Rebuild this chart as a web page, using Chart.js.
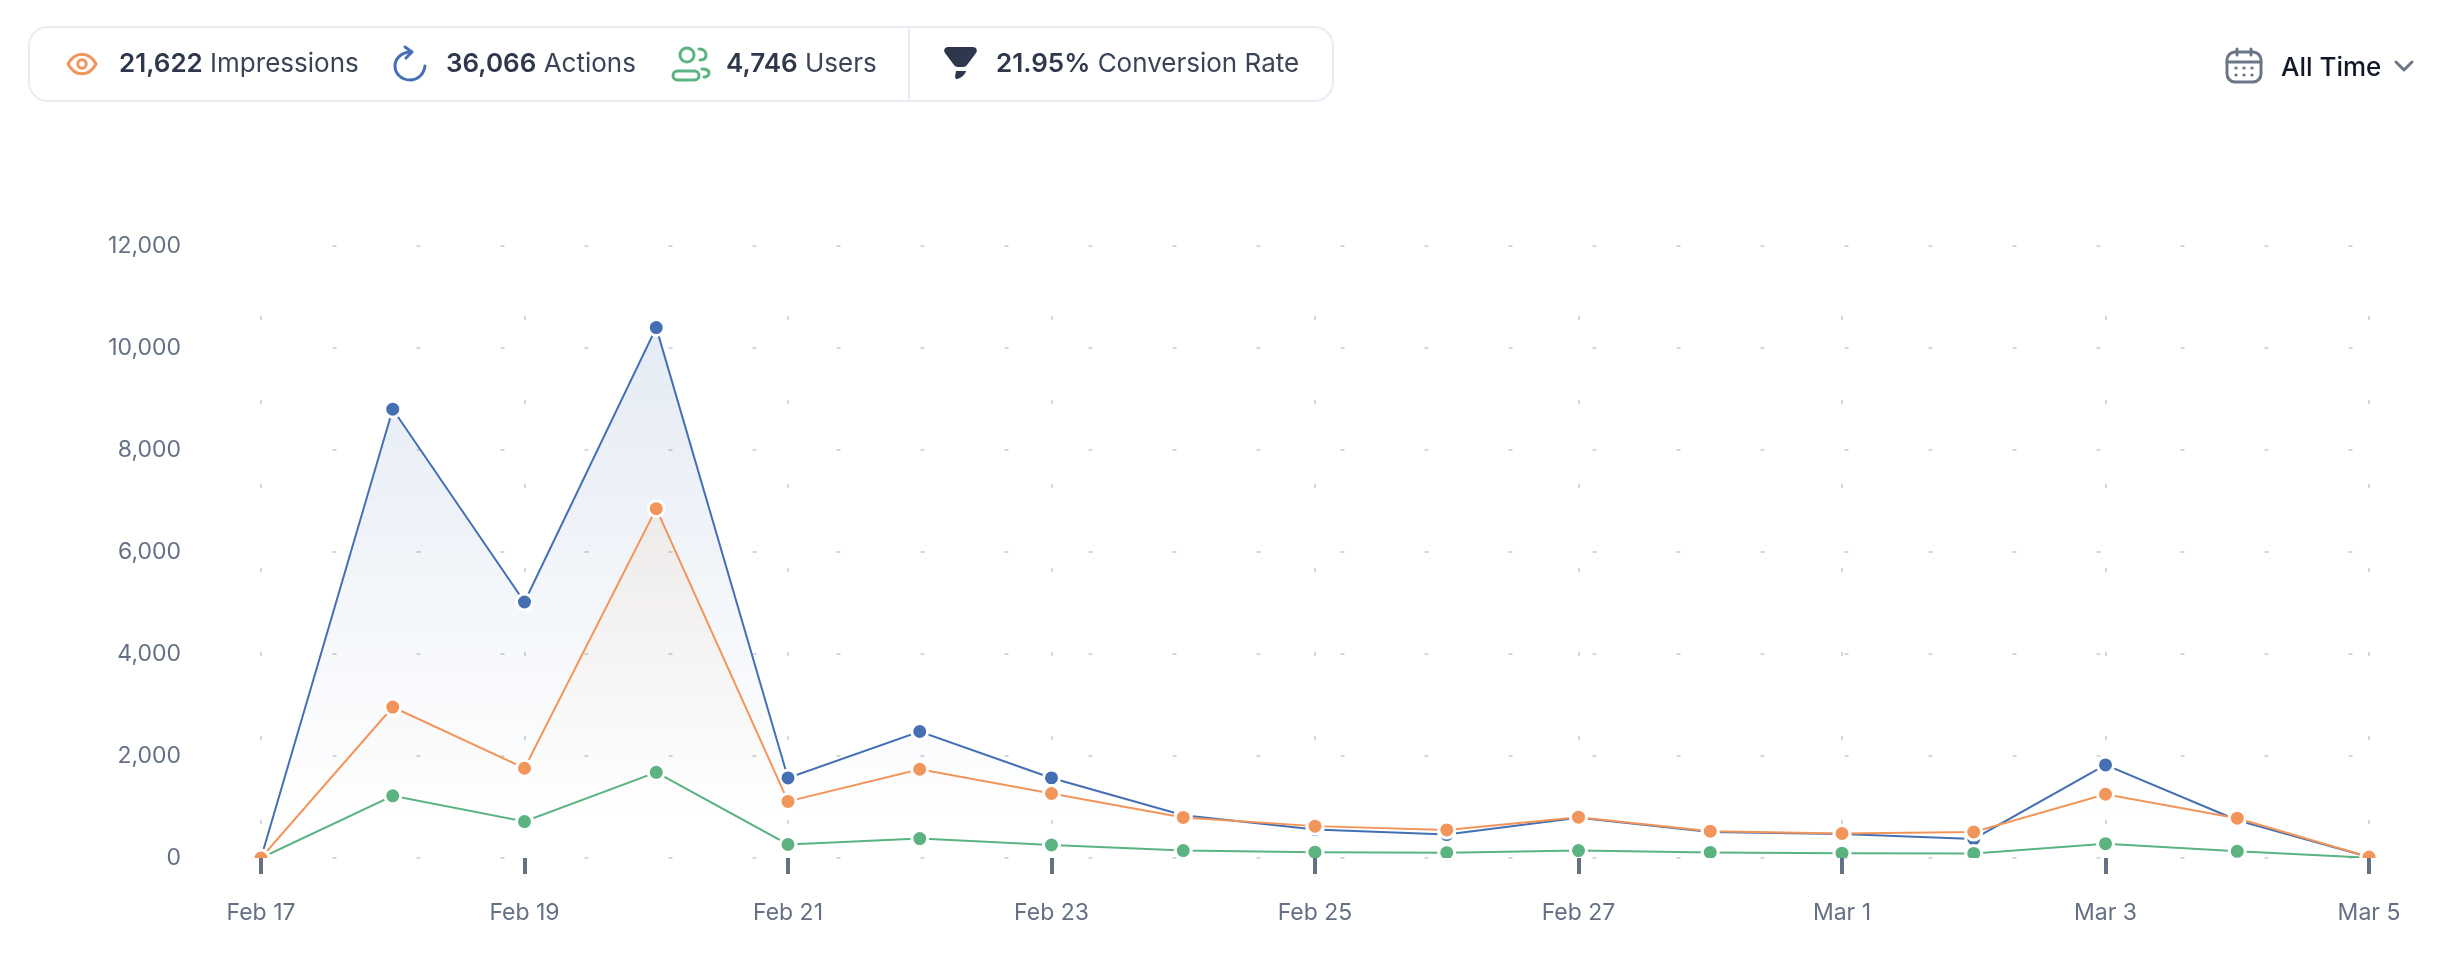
<!DOCTYPE html>
<html>
<head>
<meta charset="utf-8">
<title>Engagement</title>
<script src="https://cdn.jsdelivr.net/npm/chart.js@4"></script>
<style>
  html, body { margin: 0; background: #fff; }
  body { width: 2446px; height: 976px; position: relative; overflow: hidden; font-family: Inter, sans-serif; }
  #chart { position: absolute; left: 0; top: 0; }
  .box { position: absolute; left: 28px; top: 26px; width: 1302px; height: 72px; border: 2px solid #e8ecf3; border-radius: 20px; }
  .sep { position: absolute; left: 908px; top: 26px; width: 2px; height: 76px; background: #e8ecf3; }
  .stat { position: absolute; top: 48px; line-height: 30px; font-size: 26px; color: #3b4457; white-space: nowrap; }
  .stat b { font-weight: 600; color: #2e374b; }
  .range { position: absolute; left: 2281px; top: 52px; line-height: 30px; font-size: 26px; font-weight: 500; color: #111827; }
  svg { position: absolute; fill: none; }
</style>
</head>
<body>
<canvas id="chart" width="2446" height="976"></canvas>

<div class="box"></div>
<div class="sep"></div>

<svg style="left:66px;top:52px" width="32" height="24" viewBox="0 0 32 24" stroke="#f2955a" stroke-width="3">
  <path d="M2 12 C9 -1 23 -1 30 12 C23 25 9 25 2 12 Z"/><circle cx="16" cy="12" r="4.2"/>
</svg>
<div class="stat" style="left:119px"><b>21,622</b> Impressions</div>

<svg style="left:392px;top:45px" width="36" height="38" viewBox="0 0 36 38" stroke="#4470b3" stroke-width="3" stroke-linecap="round" stroke-linejoin="round">
  <path d="M19 7 C9 7 3 14 3 21 C3 29 10 35 18 35 C26 35 32 29 33 21"/><path d="M13 2 L20 7 L14 13"/>
</svg>
<div class="stat" style="left:446px"><b>36,066</b> Actions</div>

<svg style="left:671px;top:46px" width="40" height="36" viewBox="0 0 40 36" stroke="#5bb381" stroke-width="3" stroke-linecap="round">
  <circle cx="16" cy="9" r="7"/><path d="M28 3 C33 3 35 6 35 9 C35 12 33 14 29 14"/>
  <rect x="2" y="25" width="26" height="9" rx="4.5"/><path d="M31 23 C36 23 38 25 38 27 C38 29 36 31 33 31"/>
</svg>
<div class="stat" style="left:726px"><b>4,746</b> Users</div>

<svg style="left:943px;top:46px" width="35" height="34" viewBox="0 0 35 34">
  <path fill="#2e374b" d="M5 1 H30 C33 1 35 4 33 7 L24 19 C23 20 22 21 20 21 H15 C13 21 12 20 11 19 L2 7 C0 4 2 1 5 1 Z"/>
  <path fill="#2e374b" d="M13 25 H23 C22 29 18 32 14 33 C13 33 12 32 12 31 Z"/>
</svg>
<div class="stat" style="left:996px"><b>21.95%</b> Conversion Rate</div>

<svg style="left:2225px;top:47px" width="38" height="37" viewBox="0 0 38 37" stroke="#6b7688" stroke-width="3" stroke-linecap="round">
  <rect x="2" y="5" width="34" height="30" rx="8"/><path d="M2 15 H36 M12 2 V8 M26 2 V8"/>
  <path stroke-width="3.2" d="M11 21 h.1 M19 21 h.1 M27 21 h.1 M11 28 h.1 M19 28 h.1 M27 28 h.1"/>
</svg>
<div class="range">All Time</div>
<svg style="left:2394px;top:60px" width="20" height="12" viewBox="0 0 20 12" stroke="#6b7688" stroke-width="3" stroke-linecap="round" stroke-linejoin="round">
  <path d="M2 2 L10 10 L18 2"/>
</svg>

<script>
const dayLabels = ['Feb 17', 'Feb 18', 'Feb 19', 'Feb 20', 'Feb 21', 'Feb 22', 'Feb 23', 'Feb 24', 'Feb 25',
    'Feb 26', 'Feb 27', 'Feb 28', 'Mar 1', 'Mar 2', 'Mar 3', 'Mar 4', 'Mar 5'];
const impressions = [0, 2960, 1760, 6850, 1110, 1740, 1265, 795, 625, 550, 800, 525, 480, 510, 1250, 780, 20];
const actions = [0, 8800, 5020, 10400, 1570, 2480, 1570, 840, 560, 460, 790, 510, 470, 375, 1825, 740, 20];
const users = [0, 1220, 715, 1680, 265, 380, 255, 145, 115, 105, 145, 110, 95, 90, 280, 130, 5];

const orange = '#f2955a';
const blue = '#4470b3';
const green = '#5bb381';
const tickText = '#667085';

// Fades from the colour at the height of the peak, gone a little above the x axis
function fade(rgb, alpha, peak) {
    return function (context) {
        const chart = context.chart;
        if (!chart.chartArea) return 'transparent';
        const y = chart.scales.y;
        const gradient = chart.ctx.createLinearGradient(0, y.getPixelForValue(peak), 0, y.getPixelForValue(800));
        gradient.addColorStop(0, 'rgba(' + rgb + ',' + alpha + ')');
        gradient.addColorStop(1, 'rgba(' + rgb + ',0)');
        return gradient;
    };
}

function series(label, data, color, background) {
    return {
        label: label,
        data: data,
        borderColor: color,
        borderWidth: 2,
        tension: 0,
        pointRadius: 8,
        pointBackgroundColor: color,
        pointBorderColor: '#fff',
        pointBorderWidth: 3,
        fill: background ? 'origin' : false,
        backgroundColor: background || 'transparent',
        // points are cut off at the x axis but not at the sides
        clip: { left: false, top: false, right: false, bottom: 0 }
    };
}

new Chart(document.getElementById('chart').getContext('2d'), {
    type: 'line',
    data: {
        labels: dayLabels,
        // first dataset is painted last
        datasets: [
            series('Impressions', impressions, orange, fade('230,150,60', 0.08, 6850)),
            series('Users', users, green),
            series('Actions', actions, blue, fade('68,112,179', 0.14, 10400))
        ]
    },
    options: {
        responsive: false,
        devicePixelRatio: 1,
        animation: false,
        layout: { padding: { top: 246, right: 77, left: 0, bottom: 0 } },
        plugins: {
            legend: { display: false },
            title: { display: false },
            tooltip: { enabled: false }
        },
        scales: {
            x: {
                afterFit: function (scale) { scale.height = 118; },
                ticks: {
                    autoSkip: true,
                    maxTicksLimit: 9,
                    maxRotation: 0,
                    padding: 25,
                    color: tickText,
                    font: { family: 'Inter', size: 23 }
                },
                grid: {
                    color: '#d3d7de',
                    lineWidth: 2,
                    tickColor: tickText,
                    tickWidth: 4,
                    tickLength: 16
                },
                border: { display: false, dash: [4, 80], dashOffset: -70 }
            },
            y: {
                min: 0,
                max: 12000,
                afterFit: function (scale) { scale.width = 261; },
                ticks: {
                    stepSize: 2000,
                    padding: 80,
                    color: tickText,
                    font: { family: 'Inter', size: 23 },
                    callback: function (value) { return value.toLocaleString('en-US'); }
                },
                grid: {
                    color: '#d3d7de',
                    lineWidth: 2,
                    drawTicks: false
                },
                border: { display: false, dash: [4, 80], dashOffset: -71.5 }
            }
        }
    }
});
</script>
</body>
</html>
